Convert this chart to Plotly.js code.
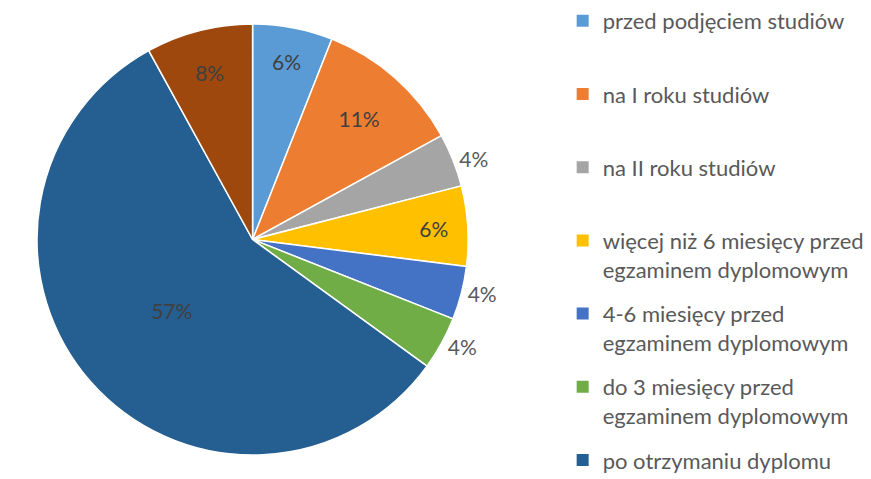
<!DOCTYPE html>
<html>
<head>
<meta charset="utf-8">
<script src="https://cdn.plot.ly/plotly-3.0.1.min.js"></script>
<style>html,body{margin:0;padding:0;background:#fff;}#chart{width:871px;height:479px;}</style>
</head>
<body>
<div id="chart"></div>
<script>
// Categories in drawing order (clockwise from 12 o'clock)
const categories = [
  "przed podjęciem studiów",
  "na I roku studiów",
  "na II roku studiów",
  "więcej niż 6 miesięcy przed<br>egzaminem dyplomowym",
  "4-6 miesięcy przed<br>egzaminem dyplomowym",
  "do 3 miesięcy przed<br>egzaminem dyplomowym",
  "po otrzymaniu dyplomu",
  "inne"
];
// Share of respondents, %
const shares = [6, 11, 4, 6, 4, 4, 57, 8];
const sliceColors = ["#5B9BD5", "#ED7D31", "#A5A5A5", "#FFC000", "#4472C4", "#70AD47", "#255E91", "#9E480E"];
const labelPositions = ["inside", "inside", "outside", "inside", "outside", "outside", "inside", "inside"];
// Number of categories listed in the legend (the last one has no legend entry)
const legendCount = 7;

const FONT = "Lato, 'Open Sans', sans-serif";
const NB = "\u00a0";
function padLabel(s, isLast) {
  if (isLast) return s;
  return s.split("<br>").length < 2 ? s + "<br>" + NB : s;
}

// Legend-only traces: one tiny pie per category, hidden beneath the main pie
const legendTraces = categories.slice(0, legendCount).map((c, i) => ({
  type: "pie",
  labels: [padLabel(c, i === legendCount - 1)],
  values: [shares[i]],
  marker: { colors: [sliceColors[i]] },
  sort: false,
  domain: { x: [0.285, 0.2852], y: [0.5, 0.5002] },
  textinfo: "none",
  hoverinfo: "skip",
  legendgroup: "g" + i,
  showlegend: true
}));

const mainTrace = {
  type: "pie",
  labels: categories,
  values: shares,
  marker: { colors: sliceColors, line: { color: "#ffffff", width: 1.5 } },
  sort: false,
  direction: "clockwise",
  rotation: 0,
  domain: { x: [0.03, 0.55], y: [0.05, 0.95] },
  texttemplate: "%{value}%",
  textposition: labelPositions,
  insidetextfont: { family: FONT, size: 21, color: "#404040" },
  outsidetextfont: { family: FONT, size: 21, color: "#595959" },
  insidetextorientation: "horizontal",
  hoverinfo: "label+percent",
  showlegend: false
};

const layout = {
  width: 871,
  height: 479,
  margin: { l: 0, r: 0, t: 0, b: 0 },
  paper_bgcolor: "#ffffff",
  font: { family: FONT, color: "#595959" },
  showlegend: true,
  legend: {
    x: 0.646,
    xanchor: "left",
    y: 1,
    yanchor: "top",
    valign: "top",
    font: { family: FONT, size: 22, color: "#595959" },
    bgcolor: "rgba(0,0,0,0)",
    itemwidth: 30,
    traceorder: "grouped",
    tracegroupgap: 13
  }
};

Plotly.newPlot("chart", legendTraces.concat([mainTrace]), layout, { displayModeBar: false, staticPlot: true });
</script>
</body>
</html>
